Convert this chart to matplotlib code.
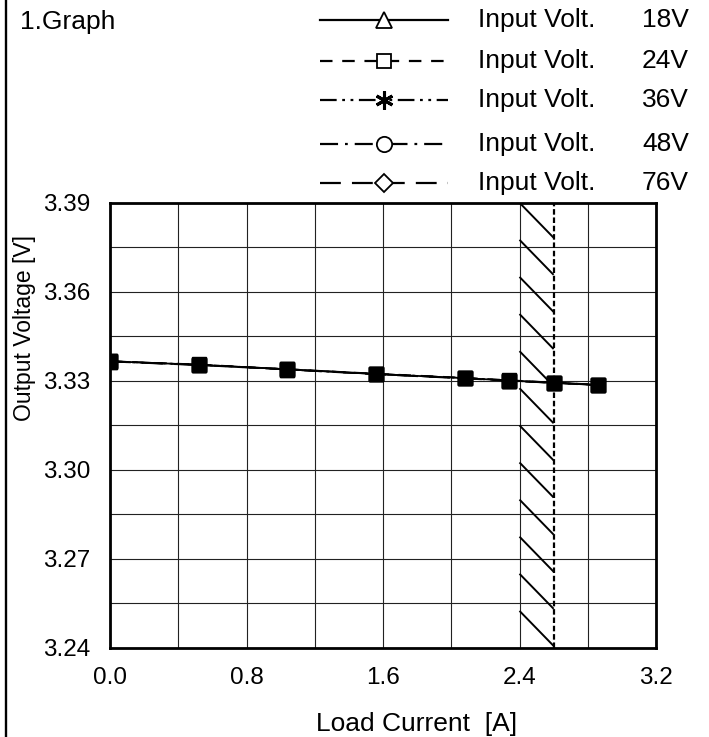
import numpy as np
import matplotlib
matplotlib.use('Agg')
import matplotlib.pyplot as plt
from matplotlib.lines import Line2D
from matplotlib.collections import LineCollection

plt.rcParams['font.family'] = ['Liberation Sans', 'DejaVu Sans']
plt.rcParams['lines.scale_dashes'] = False

# Data
load_current = [0.0, 0.52, 1.04, 1.56, 2.08, 2.34, 2.60, 2.86]
vout_18v = [3.3366, 3.3354, 3.3339, 3.3323, 3.3309, 3.3301, 3.3294, 3.3286]
vout_24v = [3.3366, 3.3355, 3.3339, 3.3324, 3.3310, 3.3302, 3.3294, 3.3287]
vout_36v = [3.3365, 3.3354, 3.3338, 3.3323, 3.3309, 3.3301, 3.3293, 3.3286]
vout_48v = [3.3366, 3.3354, 3.3339, 3.3323, 3.3309, 3.3300, 3.3294, 3.3286]
vout_76v = [3.3365, 3.3353, 3.3338, 3.3322, 3.3308, 3.3300, 3.3293, 3.3285]
input_volts = ['18V', '24V', '36V', '48V', '76V']
rated_current = 2.6
limit_start = 2.4

series = [vout_18v, vout_24v, vout_36v, vout_48v, vout_76v]
styles = ['-', (0, (9, 7)), (0, (12, 4, 2, 4, 2, 4)), (0, (13, 5, 2, 5)), (0, (15, 8))]
markers = ['^', 's', (6, 2, 0), 'o', 'D']
msizes = [11, 10, 13, 11, 9]
mews = [1.3, 1.3, 2.2, 1.3, 1.3]

W, H = 709, 737
fig = plt.figure(figsize=(W / 100, H / 100), dpi=100)
ax = fig.add_axes([110 / W, 1 - 648 / H, (656 - 110) / W, (648 - 202.7) / H])

# grid
ax.set_xlim(0, 3.2)
ax.set_ylim(3.24, 3.39)
ax.set_xticks(np.arange(0, 3.21, 0.8))
ax.set_xticks(np.arange(0, 3.21, 0.4), minor=True)
ax.set_yticks(np.arange(3.24, 3.391, 0.03))
ax.set_yticks(np.arange(3.24, 3.391, 0.015), minor=True)
ax.set_xticklabels([f'{v:.1f}' for v in np.arange(0, 3.21, 0.8)])
ax.set_yticklabels([f'{v:.2f}' for v in np.arange(3.24, 3.391, 0.03)])
ax.grid(True, which='both', color='#222222', linewidth=0.8)
ax.set_axisbelow(True)
ax.tick_params(which='both', length=0, labelsize=17.5)
ax.tick_params(axis='x', pad=14)
ax.tick_params(axis='y', pad=14)
for sp in ax.spines.values():
    sp.set_linewidth(2.0)
    sp.set_zorder(5)

# current-limit hatched band
steps = np.arange(12)
y_top = 3.39 - steps * 0.0125
segs = [[(limit_start, y), (rated_current, y - 0.0118)] for y in y_top]
ax.add_collection(LineCollection(segs, colors='black', linewidths=1.4, zorder=3))
ax.axvline(rated_current, color='black', linestyle=(0, (4, 2)), linewidth=1.6, zorder=3)

# data series
for vals, ls in zip(series, styles):
    ax.plot(load_current, vals, color='black', linestyle=ls, linewidth=1.3,
            marker='s', markersize=10, markerfacecolor='black', markeredgecolor='black', zorder=4)

# manual legend
row_y = [20, 61, 100, 144, 183]
for ls, mk, ms, mw, v, ry in zip(styles, markers, msizes, mews, input_volts, row_y):
    yf = 1 - ry / H
    fig.add_artist(Line2D([320 / W, 448 / W], [yf, yf], color='black', linestyle=ls, linewidth=1.6))
    fig.add_artist(Line2D([384 / W], [yf], color='black', marker=mk, markersize=ms,
                          markerfacecolor='white', markeredgecolor='black', markeredgewidth=mw,
                          linestyle='none'))
    fig.text(478 / W, yf, 'Input Volt.', fontsize=19, va='center', ha='left')
    fig.text(689 / W, yf, v, fontsize=19, va='center', ha='right')

fig.text(20 / W, 1 - 22 / H, '1.Graph', fontsize=19, va='center', ha='left')
fig.text(24 / W, 1 - 328 / H, 'Output Voltage [V]', fontsize=16.5, rotation=90, va='center', ha='center')
fig.text(417 / W, 1 - 724 / H, 'Load Current  [A]', fontsize=19, va='center', ha='center')

# page border on the left
fig.add_artist(Line2D([6 / W, 6 / W], [0, 1], color='black', linewidth=1.7))

fig.savefig('out.png', dpi=100)
